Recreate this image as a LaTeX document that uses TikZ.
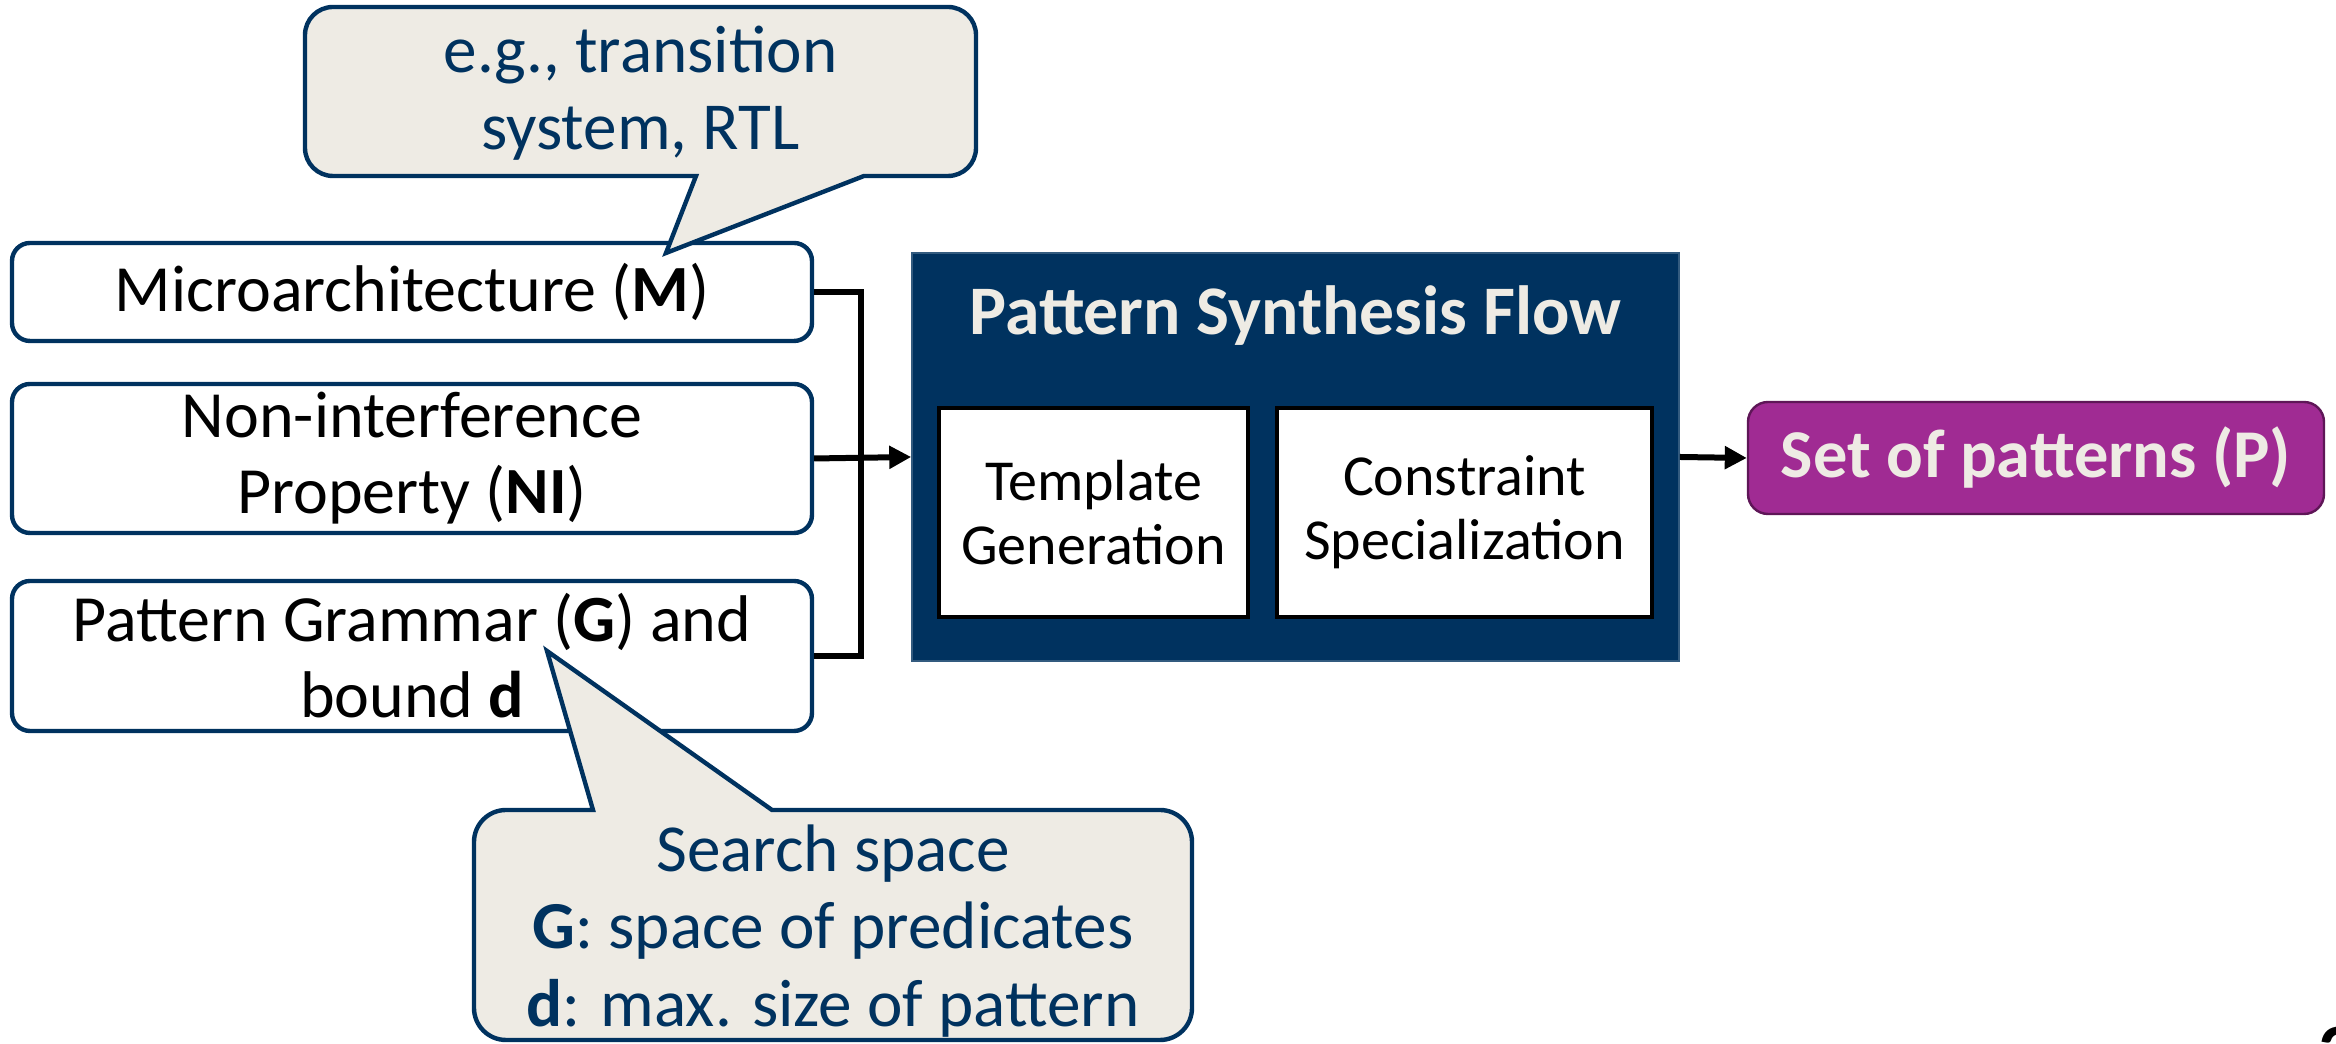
\documentclass[tikz,border=0pt]{standalone}
\usepackage{fontspec}
\setmainfont{Carlito}
\usetikzlibrary{arrows.meta}
\definecolor{navy}{HTML}{00325F}
\definecolor{cream}{HTML}{EEEBE4}
\definecolor{purp}{HTML}{A02B93}
\definecolor{purpdark}{HTML}{5E1657}
\begin{document}
\begin{tikzpicture}[x=0.25pt,y=-0.25pt,
  inbox/.style={draw=navy,line width=1.1pt,rounded corners=4.5pt,fill=white,inner sep=0pt,minimum width=200pt,align=center,font=\fontsize{16.5}{19}\selectfont},
  callout/.style={draw=navy,line width=1.1pt,fill=cream,line join=miter},
  calltext/.style={text=navy,align=center,inner sep=0pt,font=\fontsize{16.8}{19.3}\selectfont},
  stage/.style={draw=black,line width=0.8pt,fill=white,inner sep=0pt,minimum height=52.25pt,align=center,font=\fontsize{14.5}{16}\selectfont},
  conn/.style={line width=1.5pt,black},
  arr/.style={conn,-{Triangle[length=5.5pt,width=5.5pt]}}]
\useasboundingbox (0,0) rectangle (2336,1044);

% input boxes
\node[inbox,minimum height=24.5pt] (m) at (412,292) {Microarchitecture (\textbf{M})};
\node[inbox,minimum height=37.25pt] (ni) at (412,458.5) {Non-interference\\Property (\textbf{NI})};
\node[inbox,minimum height=37.5pt] (g) at (412,656) {Pattern Grammar (\textbf{G}) and\\bound \textbf{d}};

% flow box
\node[fill=navy,draw=navy!80!white,line width=0.4pt,minimum width=191.75pt,minimum height=102pt,inner sep=0pt] (flow) at (1295.5,457) {};
\node[text=cream,font=\bfseries\fontsize{17.4}{20}\selectfont,inner sep=0pt] (title) at (1295.5,316) {Pattern Synthesis Flow};
\node[stage,minimum width=77.25pt] (tg) at (1093.5,512.5) {Template\\Generation};
\node[stage,minimum width=93.75pt] (cs) at (1464.5,512.5) {Constraint\\Specialization};

% output
\node[draw=purpdark,line width=0.6pt,fill=purp,rounded corners=5pt,minimum width=144pt,minimum height=28pt,inner sep=0pt,text=cream,font=\bfseries\fontsize{17.1}{20}\selectfont] (p) at (2036,458) {Set of patterns (P)};

% connectors
\coordinate (jx) at (861,0);
\draw[conn] (m.east) -- (jx |- m.east) -- (jx |- g.east) -- (g.east);
\draw[arr] (ni.east) -- (flow.west);
\draw[arr] (flow.east) -- (p.west);

% top callout
\draw[callout] (696,176) [rounded corners=7pt] -- (305,176) -- (305,7) -- (976,7) -- (976,176) [sharp corners] -- (864,176) -- (666,253) -- cycle;
\node[calltext] (tc) at (640.5,93) {e.g., transition\\system, RTL};

% bottom callout
\draw[callout] (772,810) [rounded corners=8pt] -- (1192,810) -- (1192,1040) -- (474,1040) -- (474,810) [sharp corners] -- (593,810) -- (547,651) -- cycle;
\node[calltext] (bc) at (833,931) {Search space\\\textbf{G}: space of predicates\\\textbf{d}: max. size of pattern};

% cut page number
\node[anchor=north west,inner sep=0pt,font=\bfseries\fontsize{20}{24}\selectfont] (pg) at (2318,1026) {2};
\end{tikzpicture}
\end{document}
